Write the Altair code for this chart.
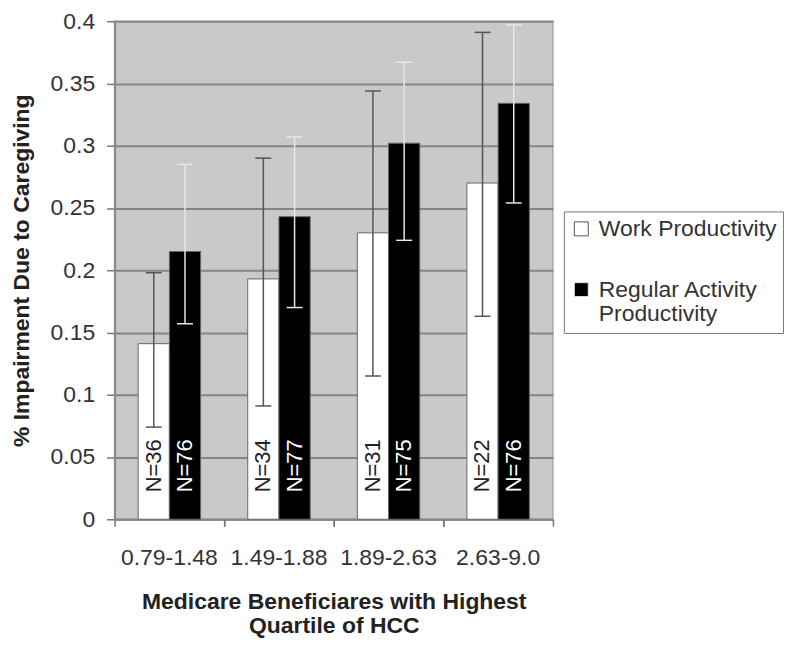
import altair as alt
import pandas as pd

categories = ["0.79-1.48", "1.49-1.88", "1.89-2.63", "2.63-9.0"]
series = ["Work Productivity", "Regular Activity Productivity"]

work_values = [0.141, 0.193, 0.230, 0.270]
work_lower = [0.074, 0.091, 0.115, 0.163]
work_upper = [0.198, 0.290, 0.344, 0.391]
work_n = [36, 34, 31, 22]

activity_values = [0.215, 0.243, 0.302, 0.334]
activity_lower = [0.157, 0.170, 0.224, 0.254]
activity_upper = [0.285, 0.307, 0.367, 0.397]
activity_n = [76, 77, 75, 76]

y_ticks = [0, 0.05, 0.1, 0.15, 0.2, 0.25, 0.3, 0.35, 0.4]

rows = []
for i, c in enumerate(categories):
    rows.append(dict(cat=c, series=series[0], value=work_values[i], lo=work_lower[i],
                     hi=work_upper[i], n=f"N={work_n[i]}", zero=0))
    rows.append(dict(cat=c, series=series[1], value=activity_values[i], lo=activity_lower[i],
                     hi=activity_upper[i], n=f"N={activity_n[i]}", zero=0))
df = pd.DataFrame(rows)

FONT = "Liberation Sans"
PAD_IN = 0.43
PAD_OUT = PAD_IN / 2
BAND_FRAC = 1 - PAD_IN
LEFT_BP = -(PAD_OUT) / BAND_FRAC
RIGHT_BP = 1 + (PAD_OUT) / BAND_FRAC

xscale = alt.Scale(domain=categories, paddingInner=PAD_IN, paddingOuter=PAD_OUT)
xoff = alt.XOffset("series:N", sort=series,
                   scale=alt.Scale(domain=series, paddingInner=0, paddingOuter=0))
yscale = alt.Scale(domain=[0, 0.4], nice=False)

x_main = alt.X("cat:N", sort=categories, scale=xscale,
               title=["Medicare Beneficiares with Highest", "Quartile of HCC"],
               axis=alt.Axis(orient="bottom", labelAngle=0, labelFontSize=23, labelFont=FONT,
                             labelColor="#333",
                             bandPosition=LEFT_BP, tickSize=7,
                             tickColor="#777", tickWidth=1.5, domainColor="#888", domainWidth=2,
                             labelPadding=20, titleFont=FONT, titleFontSize=23,
                             titleFontWeight="bold", titleColor="#222", titleX=220,
                             titleY=90, titleBaseline="alphabetic", titleLineHeight=24,
                             grid=False))
x_right = alt.X("cat:N", sort=categories, scale=xscale, title=None,
                axis=alt.Axis(orient="bottom", labels=False, domain=False,
                              bandPosition=RIGHT_BP, tickSize=7,
                              tickColor="#777", tickWidth=1.5, grid=False))
x_plain = alt.X("cat:N", sort=categories, scale=xscale, axis=None)

y_main = alt.Y("value:Q", scale=yscale, title="% Impairment Due to Caregiving",
               axis=alt.Axis(values=y_ticks, format=".2~f", labelFontSize=23, labelFont=FONT,
                             labelColor="#333", tickSize=8, tickColor="#777", tickWidth=1.5,
                             domainColor="#888", domainWidth=2, labelPadding=12,
                             gridColor="#858585", gridWidth=2,
                             titleFont=FONT, titleFontSize=23, titleFontWeight="bold",
                             titleColor="#222", titleAngle=270, titleX=-86, titleY=250,
                             titleBaseline="alphabetic", titleAlign="center"))

color = alt.Color("series:N", sort=series,
                  scale=alt.Scale(domain=series, range=["#ffffff", "#000000"]),
                  legend=alt.Legend(title=None, orient="none", legendX=451, legendY=191,
                                    symbolType="square", symbolSize=196,
                                    symbolStrokeColor="#555", symbolStrokeWidth=1,
                                    labelFont=FONT, labelFontSize=23, labelColor="#333",
                                    labelExpr="datum.label == 'Regular Activity Productivity' ? ['Regular Activity', 'Productivity'] : datum.label",
                                    labelLimit=400, padding=6, strokeColor="#777",
                                    fillColor="#ffffff", rowPadding=37, labelBaseline="middle",
                                    labelOffset=6))

err_scale = alt.Scale(domain=series, range=["#555555", "#e6e6e6"])

bars = alt.Chart(df).mark_bar(stroke="#666", strokeWidth=1).encode(
    x=x_main, xOffset=xoff, y=y_main, color=color)

rules = alt.Chart(df).mark_rule(strokeWidth=1.5).encode(
    x=x_right, xOffset=xoff,
    y=alt.Y("lo:Q", scale=yscale), y2="hi:Q",
    stroke=alt.Stroke("series:N", scale=err_scale, legend=None))

caps_hi = alt.Chart(df).mark_tick(thickness=1.5, size=16, opacity=1).encode(
    x=x_plain, xOffset=xoff, y=alt.Y("hi:Q", scale=yscale),
    fill=alt.Fill("series:N", scale=err_scale, legend=None))
caps_lo = alt.Chart(df).mark_tick(thickness=1.5, size=16, opacity=1).encode(
    x=x_plain, xOffset=xoff, y=alt.Y("lo:Q", scale=yscale),
    fill=alt.Fill("series:N", scale=err_scale, legend=None))

text_work = alt.Chart(df).transform_filter(alt.datum.series == series[0]).mark_text(
    angle=270, align="left", baseline="middle", dx=27, fontSize=22, font=FONT,
    color="#222").encode(x=x_plain, xOffset=xoff, y=alt.Y("zero:Q", scale=yscale), text="n:N")
text_act = alt.Chart(df).transform_filter(alt.datum.series == series[1]).mark_text(
    angle=270, align="left", baseline="middle", dx=27, fontSize=22, font=FONT,
    color="#ffffff").encode(x=x_plain, xOffset=xoff, y=alt.Y("zero:Q", scale=yscale), text="n:N")

chart = alt.layer(bars, rules, caps_hi, caps_lo, text_work, text_act).resolve_axis(
    x="independent").properties(
    width=440, height=500,
    autosize=alt.AutoSizeParams(type="none"),
    padding={"left": 107, "top": 12, "right": 240, "bottom": 118},
    background="#ffffff",
).configure_view(fill="#c9c9c9", stroke="#aaaaaa", strokeWidth=1.5)

chart.save("out.html", embed_options={"renderer": "svg", "actions": False})
